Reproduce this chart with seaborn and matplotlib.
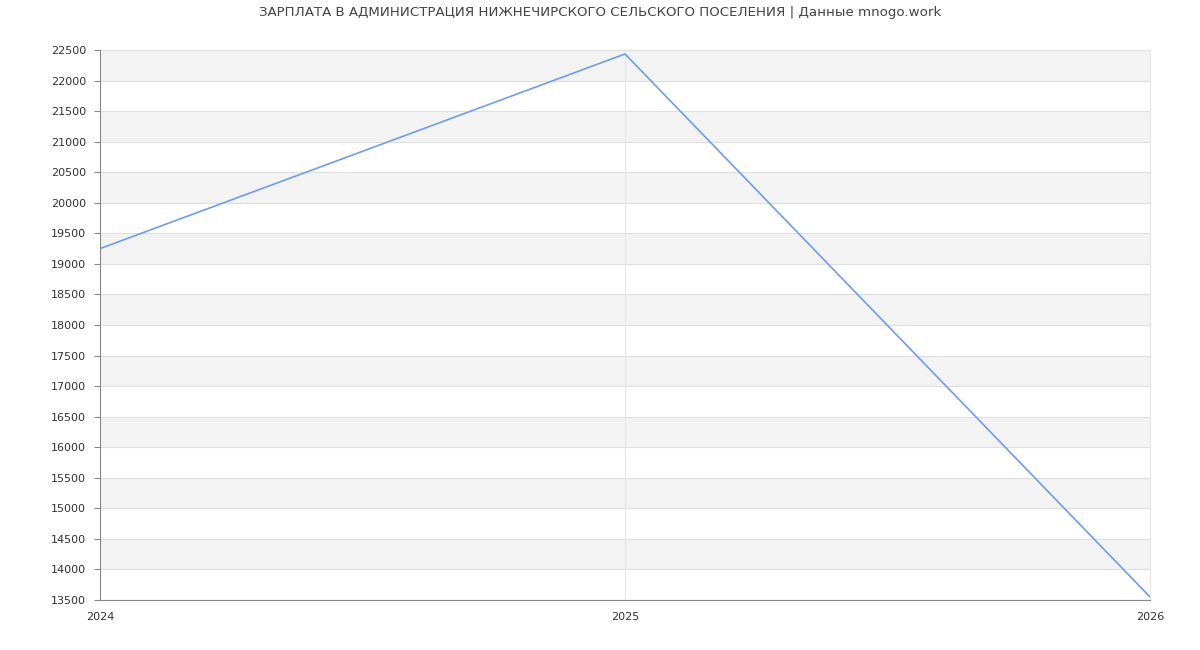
import numpy as np
import pandas as pd
import seaborn as sns
import matplotlib.pyplot as plt

# Data
years = [2024, 2025, 2026]
salary = [19250, 22435, 13550]
y_ticks = list(range(13500, 22501, 500))

df = pd.DataFrame({"year": years, "salary": salary})

sns.set_style("white")
plt.rcParams["font.family"] = ["DejaVu Sans"]
plt.rcParams["xtick.bottom"] = True
plt.rcParams["ytick.left"] = True

fig = plt.figure(figsize=(12, 6.5), dpi=100)
ax = fig.add_axes([100 / 1200, 50 / 650, 1050 / 1200, 550 / 650])

# Alternating horizontal bands
for lo in range(14000, 22500, 1000):
    ax.axhspan(lo, lo + 500, color="#f3f3f3", zorder=0, lw=0)
for t in y_ticks:
    ax.axhline(t, color="#e0e0e0", lw=0.8, zorder=1)
ax.axvline(2025, color="#e6e6e6", lw=0.8, zorder=1)

sns.lineplot(data=df, x="year", y="salary", ax=ax, color="#6f9cf0", lw=1.2, zorder=3)

ax.set_xlim(2024, 2026)
ax.set_ylim(13500, 22500)
ax.set_yticks(y_ticks)
ax.set_xticks(years)
ax.set_xticklabels([str(y) for y in years])
ax.set_xlabel("")
ax.set_ylabel("")
ax.tick_params(axis="both", labelsize=8, labelcolor="#333333", length=4, width=0.8,
               color="#888888", bottom=True, left=True)
ax.tick_params(axis="x", pad=9, length=0)
ax.tick_params(axis="y", pad=6)

ax.spines["top"].set_visible(False)
ax.spines["right"].set_color("#e6e6e6")
ax.spines["right"].set_linewidth(0.8)
ax.spines["left"].set_color("#888888")
ax.spines["bottom"].set_color("#888888")
ax.spines["left"].set_linewidth(0.8)
ax.spines["bottom"].set_linewidth(0.8)

fig.suptitle("ЗАРПЛАТА В АДМИНИСТРАЦИЯ НИЖНЕЧИРСКОГО СЕЛЬСКОГО ПОСЕЛЕНИЯ | Данные mnogo.work",
             x=0.5, y=0.991, fontsize=9.65, color="#444444")

plt.savefig("out.png", dpi=100)
plt.close()
